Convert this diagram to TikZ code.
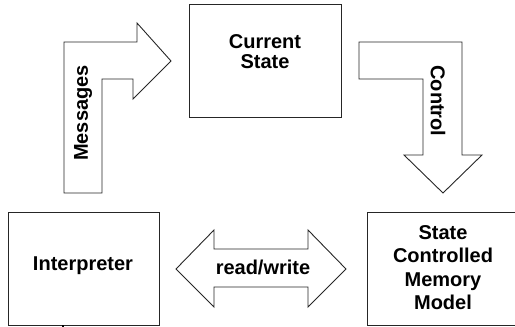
\documentclass[tikz,border=0pt]{standalone}
\usepackage{fontspec}
\setmainfont{Liberation Sans}
\begin{document}
\begin{tikzpicture}[x=1pt,y=-1pt,
  box/.style={draw=black!85, line width=0.9pt, fill=white, inner sep=0pt},
  blockarrow/.style={draw=black!85, line width=0.9pt, fill=white, line join=miter},
  lbl/.style={font=\fontsize{20}{21}\selectfont\bfseries, inner sep=0pt, align=center}]
\useasboundingbox (0,0) rectangle (515,327);

% state boxes
\node[box, minimum width=152pt, minimum height=113pt] (cur) at (265,60.5) {};
\node[lbl] (curtxt) at (265,52) {Current\\[-1pt]State};

\node[box, minimum width=151pt, minimum height=113pt] (interp) at (83.5,268.5) {};
\node[lbl] (interptxt) at (83,266) {Interpreter};

\node[box, minimum width=153pt, minimum height=113pt] (mem) at (443.5,268.5) {};
\node[lbl, font=\fontsize{20}{23.5}\selectfont\bfseries] (memtxt) at (443,267.5) {State\\Controlled\\Memory\\Model};

% Messages: bent block arrow from the interpreter up into the current state
\draw[blockarrow] (64,193) -- (64,42) -- (137,42) -- (137,23) -- (171,61)
  -- (133,99) -- (133,79) -- (102,79) -- (102,193) -- cycle;
\node[lbl, rotate=90] (msg) at (83,113) {Messages};

% Control: bent block arrow from the current state down to the memory model
\draw[blockarrow] (359,42) -- (462,42) -- (462,155) -- (482,155) -- (443,193)
  -- (404,155) -- (423,155) -- (423,79) -- (359,79) -- cycle;
\node[lbl, rotate=-90] (ctl) at (438,101) {Control};

% read/write: double-headed block arrow between interpreter and memory
\draw[blockarrow] (176,269) -- (214,230) -- (214,249) -- (308,249) -- (308,230)
  -- (346,269) -- (308,307) -- (308,287) -- (214,287) -- (214,307) -- cycle;
\node[lbl] (rw) at (263,267) {read/write};

% short stub leaving the interpreter at the bottom
\coordinate (stub) at (63,330);
\draw[line width=1.2pt] (interp.south -| stub) -- (stub);
\end{tikzpicture}
\end{document}
